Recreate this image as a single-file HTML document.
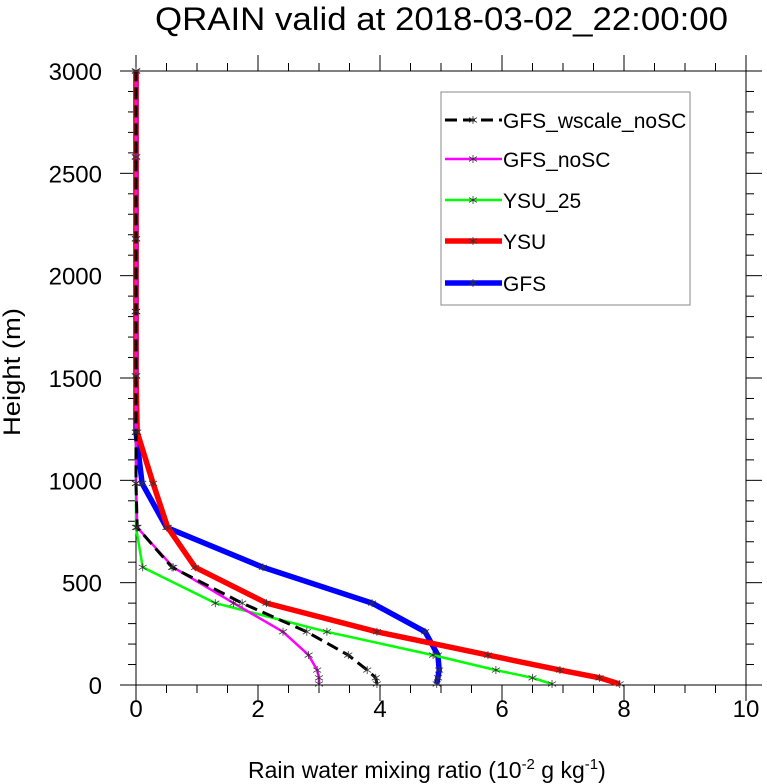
<!DOCTYPE html>
<html><head><meta charset="utf-8"><style>
body{margin:0;background:#fff;}
svg{display:block;font-family:"Liberation Sans",sans-serif;}
</style></head><body>
<svg id="chart" width="767" height="784" viewBox="0 0 767 784">
<text x="155" y="30" font-size="32" textLength="573" lengthAdjust="spacingAndGlyphs">QRAIN valid at 2018-03-02_22:00:00</text>
<g id="axes"></g>
<g id="series"></g>
<text transform="translate(20,436) rotate(-90)" font-size="24" textLength="128" lengthAdjust="spacingAndGlyphs">Height (m)</text>
<text x="248" y="778" font-size="23">Rain water mixing ratio (10<tspan font-size="15" dy="-9">-2</tspan><tspan dy="9"> g kg</tspan><tspan font-size="15" dy="-9">-1</tspan><tspan dy="9">)</tspan></text>
<g id="legend"></g>
</svg>
<script>
const heights = [5, 35, 73, 146, 260, 400, 575, 770, 985, 1235, 1510, 1825, 2180, 2580, 3000];
const seriesNames = ["GFS_wscale_noSC", "GFS_noSC", "YSU_25", "YSU", "GFS"];
const valsWscale = [3.95, 3.93, 3.79, 3.48, 2.80, 1.74, 0.59, 0.02, 0, 0, 0, 0, 0, 0, 0];
const valsGfsNoSC = [3.00, 3.00, 2.97, 2.83, 2.41, 1.60, 0.61, 0.02, 0, 0, 0, 0, 0, 0, 0];
const valsYsu25 = [6.82, 6.50, 5.90, 4.87, 3.13, 1.30, 0.11, 0.0, 0, 0, 0, 0, 0, 0, 0];
const valsYsu = [7.93, 7.60, 6.95, 5.77, 3.95, 2.14, 0.97, 0.52, 0.28, 0.02, 0, 0, 0, 0, 0];
const valsGfs = [4.93, 4.95, 4.97, 4.95, 4.74, 3.87, 2.08, 0.50, 0.10, 0.0, 0, 0, 0, 0, 0];
const xTicks = [0, 2, 4, 6, 8, 10];
const yTicks = [0, 500, 1000, 1500, 2000, 2500, 3000];

const NS = "http://www.w3.org/2000/svg";
const L = 136, R = 746, T = 71, B = 685;
const xs = v => L + (v / 10) * (R - L);
const ys = v => B - (v / 3000) * (B - T);
function mk(tag, attrs, parent) { const e = document.createElementNS(NS, tag); for (const k in attrs) e.setAttribute(k, attrs[k]); parent.appendChild(e); return e; }

const axes = document.getElementById("axes");
const frame = mk("rect", {x: L, y: T, width: R - L, height: B - T, fill: "none", stroke: "#000", "stroke-width": 1}, axes);


for (let v = 0; v <= 10.001; v += 0.5) {
  const major = Math.abs(v - Math.round(v / 2) * 2) < 1e-6;
  const len = major ? 16 : 8;
  const x = xs(v);
  const t1 = mk("line", {x1: x, y1: B, x2: x, y2: B + len, stroke: "#000"}, axes);
  
  
  const t2 = mk("line", {x1: x, y1: T, x2: x, y2: T - len, stroke: "#000"}, axes);
  
  
}
for (let v = 0; v <= 3000; v += 100) {
  const major = v % 500 === 0;
  const len = major ? 16 : 8;
  const y = ys(v);
  const t1 = mk("line", {x1: L, y1: y, x2: L - len, y2: y, stroke: "#000"}, axes);
  
  
  const t2 = mk("line", {x1: R, y1: y, x2: R + len, y2: y, stroke: "#000"}, axes);
  
  
}
xTicks.forEach(v => {
  const t = mk("text", {x: xs(v), y: B + 32, "font-size": 24, "text-anchor": "middle"}, axes);
  t.textContent = v;
  
  
});
yTicks.forEach(v => {
  const t = mk("text", {x: 102, y: ys(v) + 9, "font-size": 24, "text-anchor": "end"}, axes);
  t.textContent = v;
  
  
});

const styles = [
  {vals: valsWscale, color: "#000", w: 3, dash: "12,6"},
  {vals: valsGfsNoSC, color: "#ff00ff", w: 2.5, dash: ""},
  {vals: valsYsu25, color: "#00ff00", w: 2.5, dash: ""},
  {vals: valsYsu, color: "#ff0000", w: 5.5, dash: ""},
  {vals: valsGfs, color: "#0000ff", w: 5.5, dash: ""}
];
function star(g, x, y) {
  const s = 4;
  [[0, -s, 0, s], [-s, -s * 0.6, s, s * 0.6], [-s, s * 0.6, s, -s * 0.6]].forEach(d => {
    mk("line", {x1: x + d[0], y1: y + d[1], x2: x + d[2], y2: y + d[3], stroke: "#333", "stroke-width": 0.8}, g);
  });
}
const series = document.getElementById("series");
const order = [4, 3, 2, 1, 0];
order.forEach(i => {
  const st = styles[i];
  const g = mk("g", {}, series);
  
  
  const pts = st.vals.map((v, k) => xs(v).toFixed(1) + "," + ys(heights[k]).toFixed(1)).join(" ");
  const pl = mk("polyline", {points: pts, fill: "none", stroke: st.color, "stroke-width": st.w, "stroke-dasharray": st.dash, "stroke-linejoin": "round"}, g);
  
  
  st.vals.forEach((v, k) => star(g, xs(v), ys(heights[k])));
});

const legend = document.getElementById("legend");
const box = mk("rect", {x: 441, y: 92, width: 249, height: 213, fill: "#fff", stroke: "#888", "stroke-width": 1}, legend);


const ly = [120, 159, 200, 241, 283];
styles.forEach((st, i) => {
  const g = mk("g", {}, legend);
  
  
  mk("line", {x1: 445, y1: ly[i], x2: 502, y2: ly[i], stroke: st.color, "stroke-width": st.w, "stroke-dasharray": st.dash}, g);
  star(g, 473, ly[i]);
  const t = mk("text", {x: 503, y: ly[i] + 8, "font-size": 21}, g);
  t.textContent = seriesNames[i];
});
</script>
</body></html>
